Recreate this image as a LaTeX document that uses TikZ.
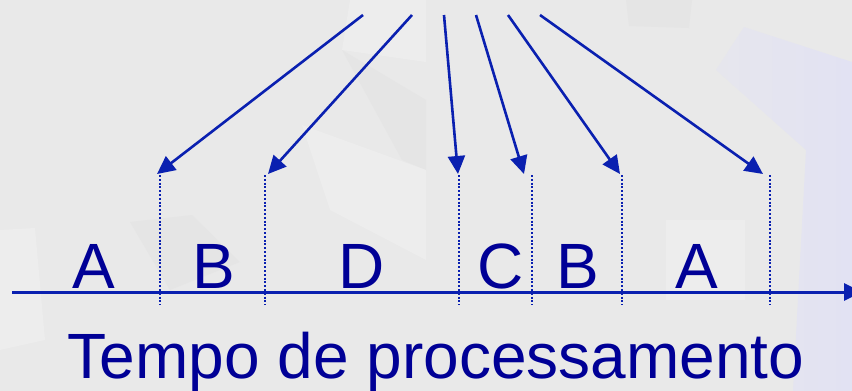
\documentclass[tikz,border=0pt]{standalone}
\usepackage{fontspec}
\setmainfont{Liberation Sans}
\usetikzlibrary{arrows.meta}

\definecolor{slideblue}{RGB}{0,0,150}
\definecolor{lineblue}{RGB}{10,32,176}
\definecolor{slidebg}{RGB}{233,233,233}
\definecolor{bgdark}{RGB}{229,229,229}
\definecolor{bglight}{RGB}{237,237,237}
\definecolor{bglav}{RGB}{226,226,243}

\begin{document}
\begin{tikzpicture}[x=1pt,y=-1pt,
		ptr/.style={line width=2.6pt, lineblue, -{Triangle[length=18pt,width=17pt]}},
		slice/.style={line width=2.2pt, lineblue, dash pattern=on 2pt off 1.8pt},
		lbl/.style={
			text=slideblue,
			inner sep=0pt,
			anchor=base,
			font=\fontsize{64}{64}\selectfont,
		}]
		\useasboundingbox (0,0) rectangle (852,391);

		% slide background with its faint tiles
		\fill[slidebg] (0,0) rectangle (852,391);
		\fill[bglight] (350,0) -- (426,0) -- (426,62) -- (342,50) -- cycle;
		\fill[bgdark] (342,50) -- (426,100) -- (426,170) -- (402,160) -- cycle;
		\fill[bglight] (302,125) -- (426,170) -- (426,260) -- (330,210) -- cycle;
		\fill[bgdark] (626,0) -- (692,0) -- (689,28) -- (629,26) -- cycle;
		\fill[bglight] (0,230) -- (35,228) -- (45,340) -- (0,350) -- cycle;
		\fill[bgdark] (130,222) -- (192,215) -- (240,262) -- (170,290) -- cycle;
		\fill[bglight] (666,220) -- (745,220) -- (745,300) -- (666,300) -- cycle;
		\shade[left color=slidebg!60!bglav, right color=bglav]
			(744,27) -- (852,62) -- (852,391) -- (793,391) -- (806,150) -- (716,70) -- cycle;

		% time axis
		\coordinate (t0) at (12,292);
		\coordinate (t1) at (862,292);
		\draw[line width=3pt, lineblue, -{Triangle[length=18pt,width=17pt]}] (t0) -- (t1);

		% switch points on the axis
		\def\top{175}; \def\bot{305};
		\coordinate (s1) at (160,\top); \coordinate (e1) at (160,\bot);
		\coordinate (s2) at (265,\top); \coordinate (e2) at (265,\bot);
		\coordinate (s3) at (459,\top); \coordinate (e3) at (459,\bot);
		\coordinate (s4) at (532,\top); \coordinate (e4) at (532,\bot);
		\coordinate (s5) at (622,\top); \coordinate (e5) at (622,\bot);
		\coordinate (s6) at (770,\top); \coordinate (e6) at (770,\bot);
		\draw[slice] (s1) -- (e1);
		\draw[slice] (s2) -- (e2);
		\draw[slice] (s3) -- (e3);
		\draw[slice] (s4) -- (e4);
		\draw[slice] (s5) -- (e5);
		\draw[slice] (s6) -- (e6);

		% arrows coming down from the top
		\def\ya{15}; \def\yb{174};
		\coordinate (a1) at (363,\ya); \coordinate (h1) at (157,\yb);
		\coordinate (a2) at (412,\ya); \coordinate (h2) at (268,\yb);
		\coordinate (a3) at (444,\ya); \coordinate (h3) at (458,\yb);
		\coordinate (a4) at (476,\ya); \coordinate (h4) at (524,\yb);
		\coordinate (a5) at (508,\ya); \coordinate (h5) at (620,\yb);
		\coordinate (a6) at (540,\ya); \coordinate (h6) at (763,\yb);
		\draw[ptr] (a1) -- (h1);
		\draw[ptr] (a2) -- (h2);
		\draw[ptr] (a3) -- (h3);
		\draw[ptr] (a4) -- (h4);
		\draw[ptr] (a5) -- (h5);
		\draw[ptr] (a6) -- (h6);

		% processes on the time line
		\def\yl{288};
		\node[lbl] (p1) at (94,\yl) {A};
		\node[lbl] (p2) at (214,\yl) {B};
		\node[lbl] (p3) at (362,\yl) {D};
		\node[lbl] (p4) at (501,\yl) {C};
		\node[lbl] (p5) at (578,\yl) {B};
		\node[lbl] (p6) at (697,\yl) {A};

		\node[lbl] (title) at (436,378) {Tempo de processamento};
	\end{tikzpicture}
\end{document}
